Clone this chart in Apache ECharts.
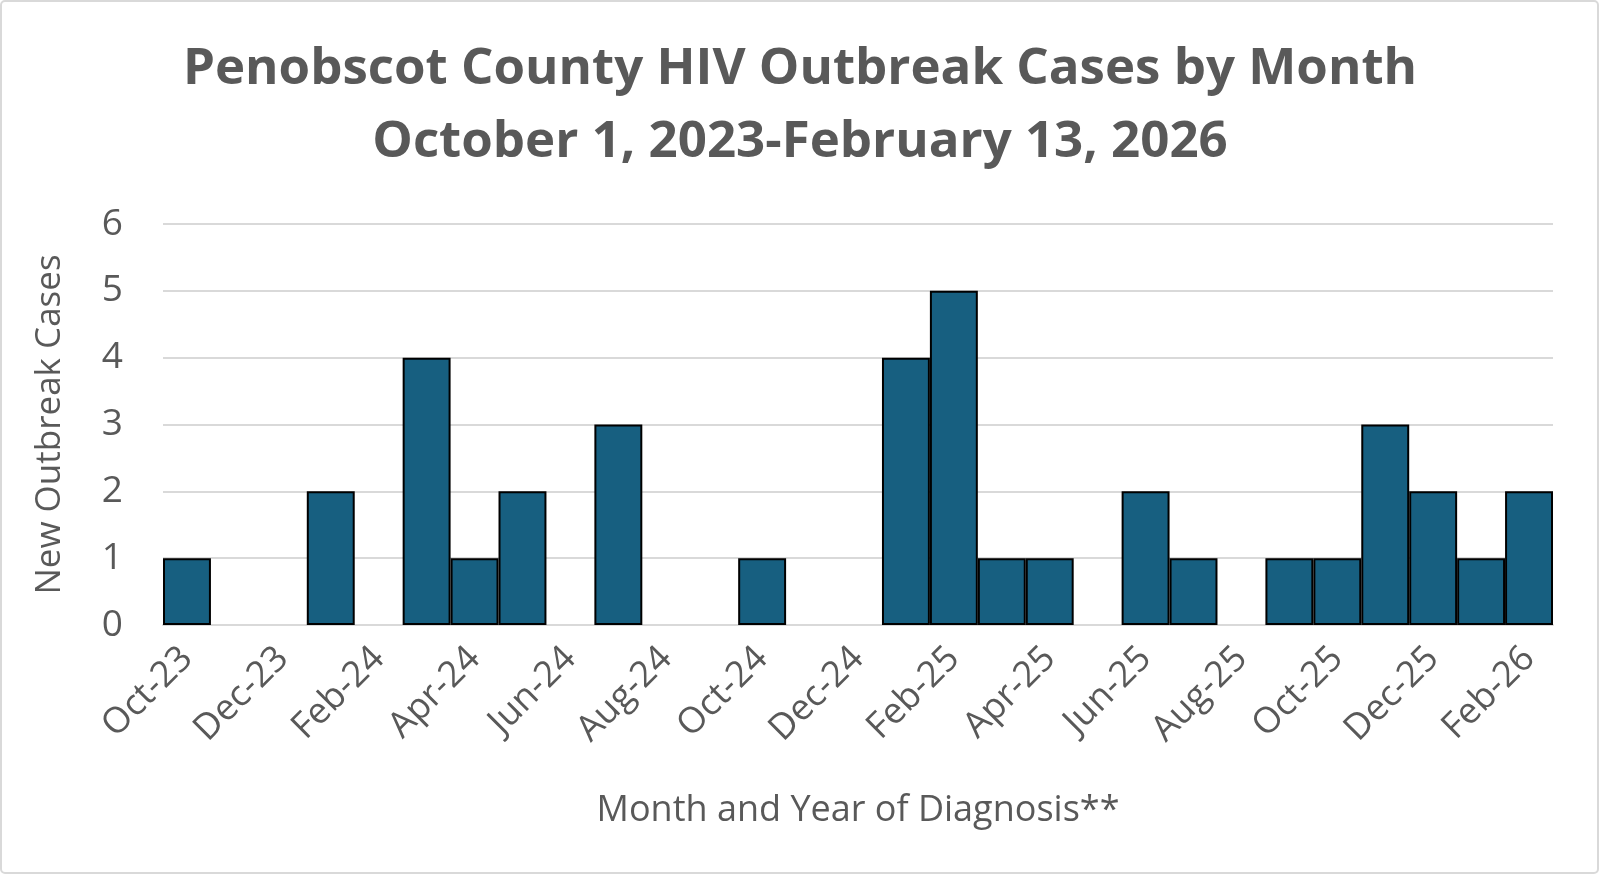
<!DOCTYPE html>
<html lang="en">
<head>
    <meta charset="UTF-8">
    <title>Penobscot County HIV Outbreak Cases</title>
    <script src="https://cdn.jsdelivr.net/npm/echarts@6.0.0/dist/echarts.min.js"></script>
    <style>
        html, body { margin: 0; padding: 0; background: #fff; }
        #chart { width: 1600px; height: 875px; }
    </style>
</head>
<body>
<div id="chart"></div>
<script>
    // months Oct-23 .. Feb-26
    var months = ['Oct-23', 'Nov-23', 'Dec-23', 'Jan-24', 'Feb-24', 'Mar-24', 'Apr-24', 'May-24',
        'Jun-24', 'Jul-24', 'Aug-24', 'Sep-24', 'Oct-24', 'Nov-24', 'Dec-24', 'Jan-25', 'Feb-25',
        'Mar-25', 'Apr-25', 'May-25', 'Jun-25', 'Jul-25', 'Aug-25', 'Sep-25', 'Oct-25', 'Nov-25',
        'Dec-25', 'Jan-26', 'Feb-26'];
    var cases = [1, 0, 0, 2, 0, 4, 1, 2, 0, 3, 0, 0, 1, 0, 0, 4, 5, 1, 1, 0, 2, 1, 0, 1, 1, 3, 2, 1, 2];
    var yTicks = [0, 1, 2, 3, 4, 5, 6];

    var grey = '#595959';

    // zero months: no outline, so the baseline stays grey
    var barData = cases.map(function (v) {
        if (v === 0) {
            return {value: v, itemStyle: {borderWidth: 0}};
        }
        return v;
    });

    var chart = echarts.init(document.getElementById('chart'));
    chart.setOption({
        animation: false,
        textStyle: {fontFamily: 'Open Sans'},
        graphic: [{
            type: 'rect',
            shape: {x: 1, y: 1, width: 1597, height: 872, r: 4},
            style: {fill: 'none', stroke: '#d9d9d9', lineWidth: 2},
            silent: true
        }],
        title: {
            text: 'Penobscot County HIV Outbreak Cases by Month\nOctober 1, 2023-February 13, 2026',
            left: 'center',
            top: 28,
            textStyle: {
                color: grey,
                fontSize: 51,
                fontWeight: 'bold',
                lineHeight: 73,
                fontFamily: 'Open Sans'
            }
        },
        grid: {left: 163, right: 47, top: 224, bottom: 250},
        xAxis: {
            type: 'category',
            data: months,
            name: 'Month and Year of Diagnosis**',
            nameLocation: 'middle',
            nameGap: 168,
            nameTextStyle: {color: grey, fontSize: 36},
            axisLine: {lineStyle: {color: '#d9d9d9', width: 2}},
            axisTick: {show: false},
            axisLabel: {
                interval: 1,
                rotate: 45,
                margin: 28,
                color: grey,
                fontSize: 36
            }
        },
        yAxis: {
            type: 'value',
            min: yTicks[0],
            max: yTicks[yTicks.length - 1],
            interval: 1,
            name: 'New Outbreak Cases',
            nameLocation: 'middle',
            nameGap: 95,
            nameTextStyle: {color: grey, fontSize: 35},
            axisLine: {show: false},
            axisTick: {show: false},
            axisLabel: {color: grey, fontSize: 37, margin: 40},
            splitLine: {lineStyle: {color: '#d9d9d9', width: 2}}
        },
        series: [{
            type: 'bar',
            data: barData,
            barCategoryGap: '0%',
            itemStyle: {color: '#175f80', borderColor: '#000', borderWidth: 2}
        }]
    });
</script>
</body>
</html>
